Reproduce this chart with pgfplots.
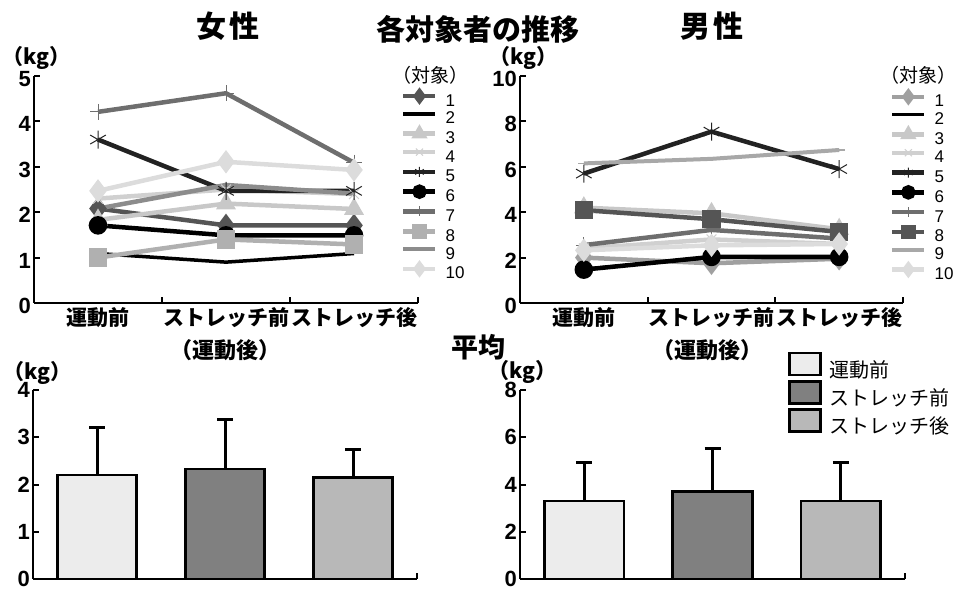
\documentclass[border=0pt]{standalone}
\usepackage{fontspec}
\setmainfont{Liberation Sans}
\newfontfamily\jp{Noto Sans CJK JP}
\usepackage{pgfplots}
\pgfplotsset{compat=1.18}

\definecolor{gA}{HTML}{555555}
\definecolor{gB}{HTML}{C8C8C8}
\definecolor{gC}{HTML}{D0D0D0}
\definecolor{gD}{HTML}{222222}
\definecolor{gE}{HTML}{6E6E6E}
\definecolor{gF}{HTML}{B0B0B0}
\definecolor{gG}{HTML}{8C8C8C}
\definecolor{gH}{HTML}{DCDCDC}
\definecolor{gI}{HTML}{A0A0A0}
\definecolor{gJ}{HTML}{A8A8A8}
\definecolor{bar1}{HTML}{ECECEC}
\definecolor{bar2}{HTML}{808080}
\definecolor{bar3}{HTML}{B8B8B8}

\pgfplotsset{
  base/.style={scale only axis, xmin=0, xmax=3, ymin=0,
    axis x line*=bottom, axis y line*=left,
    axis line style={line width=2.5pt, black},
    tick align=inside, major tick length=6pt,
    tick style={line width=2pt, black},
    clip=false,
    /pgf/number format/assume math mode=true,
    yticklabel style={font=\bfseries\fontsize{22}{22}\selectfont, inner sep=3pt},
  },
  topax/.style={base, width=384pt, height=227pt,
    yticklabel style={yshift=-3pt},
    xtick={1,2,3}, xticklabels={},
    extra x ticks={0.5,1.5,2.5},
    extra x tick labels={運動前,ストレッチ前,ストレッチ後},
    extra x tick style={major tick length=0pt},
    xticklabel style={font=\jp\bfseries\fontsize{21}{21}\selectfont, inner sep=4pt},
    legend style={draw=none, fill=none, anchor=north west,
      font=\fontsize{17}{17}\selectfont,
      nodes={inner sep=0pt, text height=13pt, text depth=3pt},
      row sep=1.8pt,
      /tikz/every odd column/.append style={column sep=8pt}},
    legend cell align=left,
    legend image code/.code={\draw[mark repeat=2,mark phase=2,##1, mark size=5pt] plot coordinates {(0pt,5pt)(16pt,5pt)(32pt,5pt)};},
  },
  botax/.style={base, width=385pt, height=189pt, xtick={3}, xticklabels={}},
  ln/.style={line width=4.5pt, color=#1, mark options={solid, fill=#1, draw=#1}},
  mybar/.style={ybar, bar width=0.62, bar shift=0pt, draw=black, line width=2.5pt, fill=#1,
    legend image code/.code={\draw[##1] (0pt,-5pt) rectangle (31pt,17pt);},
    error bars/.cd, y dir=plus, y explicit,
    error bar style={line width=3pt, black},
    error mark options={rotate=90, mark size=8pt, line width=3pt, black}},
}

\begin{document}
\begin{tikzpicture}[x=1pt,y=1pt]
\useasboundingbox (0,0) rectangle (958,592);

% titles
\node[font=\jp\bfseries\fontsize{30}{30}\selectfont] at (228,566) {女\hspace{3pt}性};
\node[font=\jp\bfseries\fontsize{29}{29}\selectfont] at (478,563) {各対象者の推移};
\node[font=\jp\bfseries\fontsize{30}{30}\selectfont] at (712,566) {男\hspace{3pt}性};
\node[font=\jp\bfseries\fontsize{27}{27}\selectfont] at (478,245) {平均};
\node[font=\jp\bfseries\fontsize{21}{21}\selectfont] at (36,534) {（kg）};
\node[font=\jp\bfseries\fontsize{21}{21}\selectfont] at (523,534) {（kg）};
\node[font=\jp\bfseries\fontsize{21}{21}\selectfont] at (37,219) {（kg）};
\node[font=\jp\bfseries\fontsize{21}{21}\selectfont] at (522,220) {（kg）};
\node[font=\jp\bfseries\fontsize{22}{22}\selectfont] at (225,242) {（運動後）};
\node[font=\jp\bfseries\fontsize{22}{22}\selectfont] at (707,242) {（運動後）};
\node[font=\jp\fontsize{19}{19}\selectfont] at (430,517) {（対象）};
\node[font=\jp\fontsize{19}{19}\selectfont] at (918,517) {（対象）};

% ---------- female
\begin{axis}[topax, at={(34pt,289pt)}, anchor=south west, ymax=5, ytick={0,1,2,3,4,5},
  legend style={at={(0.948,0.943)}}]
\addplot[ln=gA, mark=diamond*, mark size=8pt] coordinates {(0.5,2.08)(1.5,1.71)(2.5,1.71)};
\addplot[line width=3.5pt, black] coordinates {(0.5,1.09)(1.5,0.90)(2.5,1.09)};
\addplot[ln=gB, mark=triangle*, mark size=7pt] coordinates {(0.5,1.83)(1.5,2.19)(2.5,2.07)};
\addplot[ln=gC, mark=x, mark size=7pt, mark options={line width=1pt}] coordinates {(0.5,2.30)(1.5,2.50)(2.5,2.40)};
\addplot[ln=gD, mark=asterisk, mark size=9pt, mark options={line width=1pt}] coordinates {(0.5,3.60)(1.5,2.47)(2.5,2.47)};
\addplot[ln=black, mark=*, mark size=7pt] coordinates {(0.5,1.71)(1.5,1.49)(2.5,1.49)};
\addplot[ln=gE, mark=+, mark size=8pt, mark options={line width=1pt}] coordinates {(0.5,4.21)(1.5,4.62)(2.5,3.09)};
\addplot[ln=gF, mark=square*, mark size=7pt] coordinates {(0.5,1.00)(1.5,1.40)(2.5,1.29)};
\addplot[ln=gG] coordinates {(0.5,2.08)(1.5,2.60)(2.5,2.41)};
\addplot[ln=gH, mark=diamond*, mark size=8pt] coordinates {(0.5,2.47)(1.5,3.11)(2.5,2.93)};
\legend{1,2,3,4,5,6,7,8,9,10}
\end{axis}

% ---------- male
\begin{axis}[topax, at={(520pt,289pt)}, anchor=south west, width=383pt, ymax=10, ytick={0,2,4,6,8,10},
  legend style={at={(0.958,0.94)}}]
\addplot[ln=gI, mark=diamond*, mark size=8pt] coordinates {(0.5,2.00)(1.5,1.75)(2.5,1.95)};
\addplot[line width=3pt, black, mark=-, mark size=6pt, mark options={line width=1.5pt}] coordinates {(0.5,1.50)(1.5,2.00)(2.5,2.00)};
\addplot[ln=gB, mark=triangle*, mark size=7pt] coordinates {(0.5,4.20)(1.5,3.95)(2.5,3.25)};
\addplot[ln=gC, mark=x, mark size=7pt, mark options={line width=1pt}] coordinates {(0.5,2.40)(1.5,2.80)(2.5,2.60)};
\addplot[ln=gD, mark=asterisk, mark size=9pt, mark options={line width=1pt}] coordinates {(0.5,5.70)(1.5,7.55)(2.5,5.90)};
\addplot[ln=black, mark=*, mark size=7pt] coordinates {(0.5,1.47)(1.5,2.03)(2.5,2.03)};
\addplot[ln=gE, mark=+, mark size=8pt, mark options={line width=1pt}] coordinates {(0.5,2.55)(1.5,3.22)(2.5,2.84)};
\addplot[ln=gA, mark=square*, mark size=7pt] coordinates {(0.5,4.09)(1.5,3.69)(2.5,3.13)};
\addplot[line width=4pt, gJ, mark=-, mark size=6pt, mark options={line width=1.5pt, gJ}] coordinates {(0.5,6.15)(1.5,6.35)(2.5,6.74)};
\addplot[ln=gH, mark=diamond*, mark size=8pt] coordinates {(0.5,2.32)(1.5,2.54)(2.5,2.60)};
\legend{1,2,3,4,5,6,7,8,9,10}
\end{axis}

% ---------- bottom left
\begin{axis}[botax, at={(33pt,13pt)}, anchor=south west, width=384pt, ymax=4, ytick={0,1,2,3,4}]
\addplot[mybar=bar1] coordinates {(0.5,2.20) +- (0,1.01)};
\addplot[mybar=bar2] coordinates {(1.5,2.33) +- (0,1.04)};
\addplot[mybar=bar3] coordinates {(2.5,2.15) +- (0,0.60)};
\end{axis}

% ---------- bottom right
\begin{axis}[botax, at={(520pt,13pt)}, anchor=south west, ymax=8, ytick={0,2,4,6,8},
  legend style={draw=none, fill=none, at={(0.689,1.214)}, anchor=north west,
    font=\jp\fontsize{20}{20}\selectfont,
    nodes={inner sep=0pt, text height=18pt, text depth=4pt},
    row sep=-1pt,
    /tikz/every odd column/.append style={column sep=8pt}},
  legend cell align=left]
\addplot[mybar=bar1] coordinates {(0.5,3.31) +- (0,1.63)};
\addplot[mybar=bar2] coordinates {(1.5,3.70) +- (0,1.84)};
\addplot[mybar=bar3] coordinates {(2.5,3.31) +- (0,1.63)};
\legend{運動前,ストレッチ前,ストレッチ後}
\end{axis}
\end{tikzpicture}
\end{document}
